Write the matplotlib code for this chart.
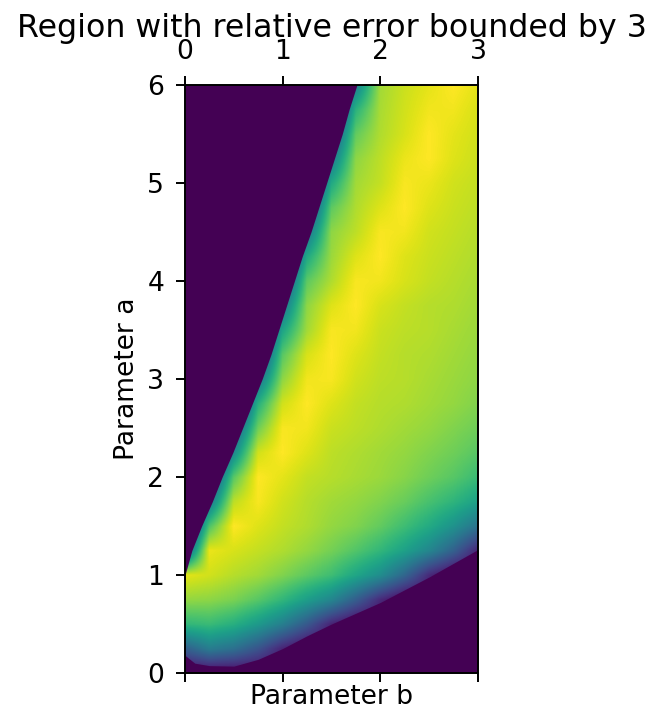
import numpy as np
import matplotlib
matplotlib.use("Agg")
import matplotlib.pyplot as plt

# ---- data ----
title = "Region with relative error bounded by 3"
x_label = "Parameter b"
y_label = "Parameter a"
x_ticks = [0, 1, 2, 3]
y_ticks = [0, 1, 2, 3, 4, 5, 6]

# grid of parameter values (cell centres)
b_values = [0.0, 0.25, 0.5, 0.75, 1.0, 1.25, 1.5, 1.75, 2.0, 2.25, 2.5, 2.75, 3.0]
a_values = [0.0, 0.25, 0.5, 0.75, 1.0, 1.25, 1.5, 1.75, 2.0, 2.25, 2.5, 2.75, 3.0,
            3.25, 3.5, 3.75, 4.0, 4.25, 4.5, 4.75, 5.0, 5.25, 5.5, 5.75, 6.0]

# colour level (0..1 of the colormap) read at each grid point, rows from a=0 to a=6
level = [
    [0.00, 0.00, 0.00, 0.00, 0.00, 0.00, 0.00, 0.00, 0.00, 0.00, 0.00, 0.00, 0.00],  # a=0
    [0.30, 0.42, 0.37, 0.26, 0.10, 0.00, 0.00, 0.00, 0.00, 0.00, 0.00, 0.00, 0.00],  # a=0.25
    [0.66, 0.68, 0.63, 0.54, 0.43, 0.28, 0.10, 0.00, 0.00, 0.00, 0.00, 0.00, 0.00],  # a=0.5
    [0.84, 0.83, 0.80, 0.74, 0.66, 0.56, 0.46, 0.30, 0.12, 0.00, 0.00, 0.00, 0.00],  # a=0.75
    [0.96, 0.93, 0.89, 0.86, 0.81, 0.75, 0.69, 0.59, 0.49, 0.33, 0.12, 0.00, 0.00],  # a=1
    [0.25, 0.97, 0.94, 0.91, 0.88, 0.84, 0.79, 0.73, 0.66, 0.57, 0.46, 0.31, 0.10],  # a=1.25
    [0.00, 0.72, 1.00, 0.95, 0.91, 0.88, 0.84, 0.81, 0.76, 0.69, 0.61, 0.51, 0.38],  # a=1.5
    [0.39, 0.39, 0.90, 0.99, 0.93, 0.89, 0.86, 0.84, 0.81, 0.77, 0.71, 0.65, 0.57],  # a=1.75
    [0.14, 0.14, 0.74, 1.00, 0.96, 0.91, 0.89, 0.87, 0.85, 0.82, 0.78, 0.74, 0.68],  # a=2
    [0.00, 0.00, 0.47, 0.93, 1.00, 0.95, 0.90, 0.88, 0.86, 0.84, 0.81, 0.78, 0.74],  # a=2.25
    [0.00, 0.26, 0.26, 0.78, 0.99, 0.98, 0.92, 0.90, 0.88, 0.86, 0.84, 0.81, 0.78],  # a=2.5
    [0.00, 0.00, 0.00, 0.63, 0.93, 1.00, 0.95, 0.91, 0.89, 0.88, 0.86, 0.84, 0.81],  # a=2.75
    [0.00, 0.00, 0.38, 0.38, 0.83, 0.98, 0.99, 0.93, 0.90, 0.89, 0.87, 0.85, 0.83],  # a=3
    [0.00, 0.00, 0.00, 0.14, 0.74, 0.94, 1.00, 0.95, 0.91, 0.89, 0.88, 0.86, 0.84],  # a=3.25
    [0.00, 0.00, 0.00, 0.00, 0.58, 0.86, 0.99, 0.98, 0.92, 0.90, 0.89, 0.87, 0.85],  # a=3.5
    [0.00, 0.00, 0.00, 0.38, 0.38, 0.83, 0.95, 1.00, 0.94, 0.91, 0.89, 0.88, 0.86],  # a=3.75
    [0.00, 0.00, 0.00, 0.17, 0.17, 0.75, 0.88, 0.99, 0.98, 0.94, 0.91, 0.89, 0.87],  # a=4
    [0.00, 0.00, 0.00, 0.00, 0.00, 0.60, 0.85, 0.95, 1.00, 0.95, 0.92, 0.90, 0.88],  # a=4.25
    [0.00, 0.00, 0.00, 0.00, 0.38, 0.38, 0.83, 0.90, 0.99, 0.98, 0.93, 0.91, 0.89],  # a=4.5
    [0.00, 0.00, 0.00, 0.00, 0.17, 0.17, 0.75, 0.88, 0.95, 1.00, 0.95, 0.92, 0.90],  # a=4.75
    [0.00, 0.00, 0.00, 0.00, 0.00, 0.00, 0.60, 0.86, 0.91, 0.99, 0.97, 0.93, 0.91],  # a=5
    [0.00, 0.00, 0.00, 0.00, 0.00, 0.40, 0.40, 0.83, 0.90, 0.97, 1.00, 0.95, 0.92],  # a=5.25
    [0.00, 0.00, 0.00, 0.00, 0.00, 0.21, 0.21, 0.76, 0.88, 0.94, 1.00, 0.96, 0.93],  # a=5.5
    [0.00, 0.00, 0.00, 0.00, 0.00, 0.00, 0.00, 0.64, 0.87, 0.93, 0.98, 0.98, 0.94],  # a=5.75
    [0.00, 0.00, 0.00, 0.00, 0.00, 0.43, 0.43, 0.43, 0.86, 0.92, 0.96, 1.00, 0.96],  # a=6
]

# edges of the region (outside is drawn in the lowest colour)
left_edge_a = [1.0, 1.25, 1.5, 1.75, 2.0, 2.25, 2.5, 2.75, 3.0, 3.25, 3.5,
               3.75, 4.0, 4.25, 4.5, 4.75, 5.0, 5.25, 5.5, 5.75, 6.0]
left_edge_b = [0.0, 0.07, 0.17, 0.28, 0.38, 0.49, 0.59, 0.69, 0.79, 0.88, 0.96,
               1.04, 1.12, 1.2, 1.29, 1.37, 1.45, 1.53, 1.61, 1.68, 1.76]
lower_edge_b = [0.0, 0.1, 0.25, 0.5, 0.75, 1.0, 1.25, 1.5, 1.75, 2.0, 2.25, 2.5, 2.75, 3.0]
lower_edge_a = [0.18, 0.1, 0.075, 0.07, 0.14, 0.25, 0.38, 0.5, 0.61, 0.72, 0.85, 0.98, 1.12, 1.26]

# ---- figure ----
W, H = 662, 709
DPI = 175
plt.rcParams["font.family"] = ["DejaVu Sans"]
fig = plt.figure(figsize=(W / DPI, H / DPI), dpi=DPI)
ax = fig.add_axes([185 / W, (H - 673) / H, 293 / W, 588 / H])

cmap = plt.get_cmap("viridis")
db = b_values[1] - b_values[0]
da = a_values[1] - a_values[0]
ax.imshow(np.array(level), origin="lower", cmap=cmap, vmin=0, vmax=1,
          extent=[b_values[0] - db / 2, b_values[-1] + db / 2,
                  a_values[0] - da / 2, a_values[-1] + da / 2],
          interpolation="bilinear", interpolation_stage="data", aspect="auto")

outside = cmap(0.0)
ax.fill_betweenx(left_edge_a, 0, left_edge_b, color=outside, lw=0, zorder=2)
ax.fill_between(lower_edge_b, 0, lower_edge_a, color=outside, lw=0, zorder=2)

ax.set_xlim(0, 3)
ax.set_ylim(0, 6)
ax.set_xticks(x_ticks)
ax.set_yticks(y_ticks)
ax.tick_params(axis="x", top=True, bottom=True, labeltop=True, labelbottom=False,
               labelsize=10.9, pad=4.6)
ax.tick_params(axis="y", labelsize=10.9, pad=5)
ax.set_xlabel(x_label, fontsize=10.9)
ax.set_ylabel(y_label, fontsize=10.9)
ax.xaxis.set_label_position("bottom")
ax.xaxis.set_label_coords(0.5, -(684 - 673) / 588)
ax.yaxis.set_label_coords(-(185 - 140) / 293, 0.5)
ax.set_title(title, y=1 + 48 / 588, pad=0, fontsize=13)

fig.savefig("out.png", dpi=DPI)
